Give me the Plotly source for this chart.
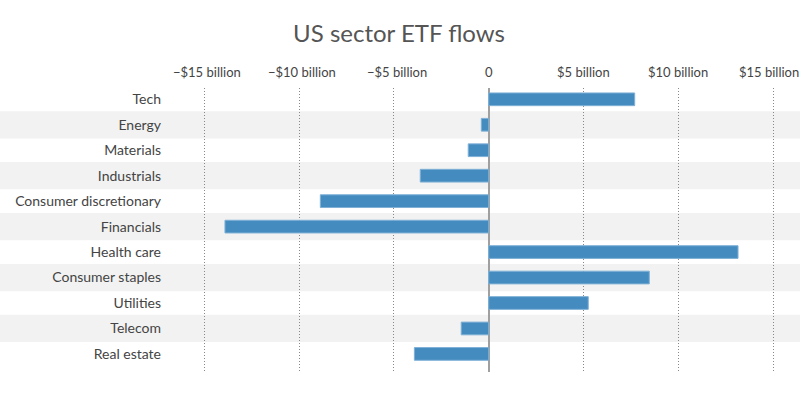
import plotly.graph_objects as go

categories = ["Tech", "Energy", "Materials", "Industrials", "Consumer discretionary",
              "Financials", "Health care", "Consumer staples", "Utilities", "Telecom", "Real estate"]
flows = [7.70, -0.39, -1.08, -3.61, -8.88, -13.91, 13.15, 8.47, 5.25, -1.45, -3.92]
tick_vals = [-15, -10, -5, 0, 5, 10, 15]
tick_text = ["\u2212$15 billion", "\u2212$10 billion", "\u2212$5 billion", "0",
             "$5 billion", "$10 billion", "$15 billion"]

W, H = 800, 393
ml, mr, mt, mb = 175, 10, 88, 21
pw = W - ml - mr
ph = H - mt - mb

fig = go.Figure()
fig.add_trace(go.Bar(
    y=categories, x=flows, orientation="h",
    marker=dict(color="#448cc0", line=dict(color="#7fb0d6", width=1)),
    width=0.5, hoverinfo="x+y",
))

# alternating background bands spanning the full width
for i, c in enumerate(categories):
    if i % 2 == 1:
        fig.add_shape(type="rect", xref="paper", yref="y",
                      x0=-ml / pw, x1=(pw + mr) / pw,
                      y0=i - 0.535, y1=i + 0.535,
                      fillcolor="#f2f2f2", line=dict(width=0), layer="below")

# top tick labels
for v, t in zip(tick_vals, tick_text):
    shift = -4 if v == tick_vals[-1] else (3 if v < 0 else 0)
    fig.add_annotation(x=v, xref="x", y=1 + (mt - 72) / ph, yref="paper",
                       text=t, showarrow=False, xanchor="center", yanchor="middle",
                       xshift=shift, font=dict(size=13, color="#444"))

fig.update_layout(
    width=W, height=H,
    margin=dict(l=ml, r=mr, t=mt, b=mb, autoexpand=False),
    paper_bgcolor="white", plot_bgcolor="rgba(0,0,0,0)",
    font=dict(family="Lato, sans-serif", color="#444"),
    title=dict(text="US sector ETF flows", xanchor="center",
               xref="paper", y=1 - 34 / H, yref="container", yanchor="middle",
               font=dict(size=24, color="#555")),
    showlegend=False,
)
fig.layout.title.x = (399 - ml) / pw
fig.update_xaxes(
    range=[(ml - 488.7) / 18.96, (W - mr - 488.7) / 18.96],
    tickvals=tick_vals, showticklabels=False,
    showgrid=True, gridcolor="#888", griddash="1px,2px", gridwidth=1,
    zeroline=True, zerolinecolor="#a0a0a0", zerolinewidth=2,
    ticks="", showline=False, fixedrange=True, automargin=False,
)
fig.update_yaxes(
    categoryorder="array", categoryarray=categories,
    range=[10.71, -0.444], tickfont=dict(size=14, color="#444"),
    showgrid=False, zeroline=False, showline=False, ticks="",
    ticklabelstandoff=13, fixedrange=True, automargin=False,
)

fig.write_html(
    "out.html",
    config={"displayModeBar": False},
    post_script="document.body.style.margin='0';document.body.style.overflow='hidden';",
)
